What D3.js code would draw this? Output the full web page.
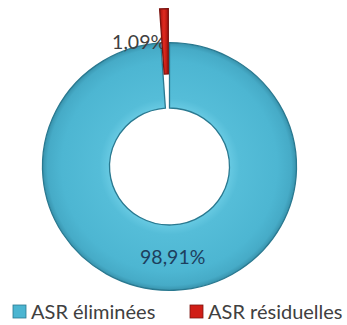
<!DOCTYPE html>
<html>
<head>
<meta charset="utf-8">
<script src="https://cdn.jsdelivr.net/npm/d3@7"></script>
<style>
  html, body { margin: 0; padding: 0; background: #fff; }
  svg { display: block; }
  text { font-family: Lato, "Open Sans", sans-serif; }
</style>
</head>
<body>
<svg id="chart" width="347" height="325"></svg>
<script>
// Share of ASR eliminated vs remaining (percent)
const categories = ["ASR éliminées", "ASR résiduelles"];
const values = [98.91, 1.09];
const valueLabels = ["98,91%", "1,09%"];
const colors = ["#4bb5d1", "#d01e17"];
const edgeColors = ["#2a7990", "#7a1410"];
const labelColors = ["#1d3f5e", "#404040"];

const svg = d3.select("#chart");
const cx = 169.5, cy = 166.5, rOuter = 127, rInner = 60, ySquash = 0.975;
const explode = [0, 35];

const defs = svg.append("defs");

// bevel-like radial shading for the ring
const gBlue = defs.append("radialGradient")
  .attr("id", "gradBlue").attr("gradientUnits", "userSpaceOnUse")
  .attr("cx", 0).attr("cy", 0).attr("r", rOuter);
[[0.45, "#6ccde5"], [0.55, "#55bdd8"], [0.85, "#4db6d2"], [0.96, "#46abc7"], [1, "#3893ad"]]
  .forEach(([o, c]) => gBlue.append("stop").attr("offset", o).attr("stop-color", c));

const gRed = defs.append("linearGradient").attr("id", "gradRed")
  .attr("x1", 0).attr("x2", 1).attr("y1", 0).attr("y2", 0);
[[0, "#a8110d"], [0.5, "#e02a1f"], [1, "#a8110d"]]
  .forEach(([o, c]) => gRed.append("stop").attr("offset", o).attr("stop-color", c));

const fills = ["url(#gradBlue)", "url(#gradRed)"];

const pie = d3.pie().sort(null).value(d => d).startAngle(0).endAngle(2 * Math.PI);
const arcs = pie(values);
const arc = d3.arc().innerRadius(rInner).outerRadius(rOuter);

function offset(d, i) {
  const a = (d.startAngle + d.endAngle) / 2;
  return [Math.sin(a) * explode[i], -Math.cos(a) * explode[i]];
}

// layers: big slice, then value labels, then the exploded sliver on top
const ringLayer = svg.append("g").attr("transform", `translate(${cx},${cy}) scale(1,${ySquash})`);
const labelLayer = svg.append("g");
const sliverLayer = svg.append("g").attr("transform", `translate(${cx},${cy}) scale(1,${ySquash})`);

arcs.forEach((d, i) => {
  const layer = i === 0 ? ringLayer : sliverLayer;
  const [x, y] = offset(d, i);
  layer.append("path")
    .datum(d)
    .attr("d", arc)
    .attr("transform", `translate(${x},${y})`)
    .attr("fill", fills[i])
    .attr("stroke", edgeColors[i])
    .attr("stroke-width", 1.3);
});

// value labels
const labelArc = d3.arc().innerRadius((rInner + rOuter) / 2).outerRadius((rInner + rOuter) / 2);
arcs.forEach((d, i) => {
  const [x, y] = labelArc.centroid(d);
  const [ox, oy] = offset(d, i);
  const t = labelLayer.append("text")
    .attr("font-size", 19.5)
    .attr("fill", labelColors[i])
    .text(valueLabels[i]);
  if (i === 0) {
    t.attr("x", cx + x).attr("y", cy + y * ySquash + 6).attr("text-anchor", "middle");
  } else {
    t.attr("x", cx + x + ox + 1).attr("y", cy + (y + oy) * ySquash + 8).attr("text-anchor", "end");
  }
});

// legend
const legendX = [13, 190];
const legendY = 305;
const lg = svg.append("g");
categories.forEach((c, i) => {
  lg.append("rect")
    .attr("x", legendX[i]).attr("y", legendY)
    .attr("width", 13).attr("height", 13)
    .attr("fill", colors[i])
    .attr("stroke", edgeColors[i]).attr("stroke-width", 0.8);
  lg.append("text")
    .attr("x", legendX[i] + 18).attr("y", legendY + 13.5)
    .attr("font-size", 20)
    .attr("fill", "#404040")
    .text(c);
});
</script>
</body>
</html>
